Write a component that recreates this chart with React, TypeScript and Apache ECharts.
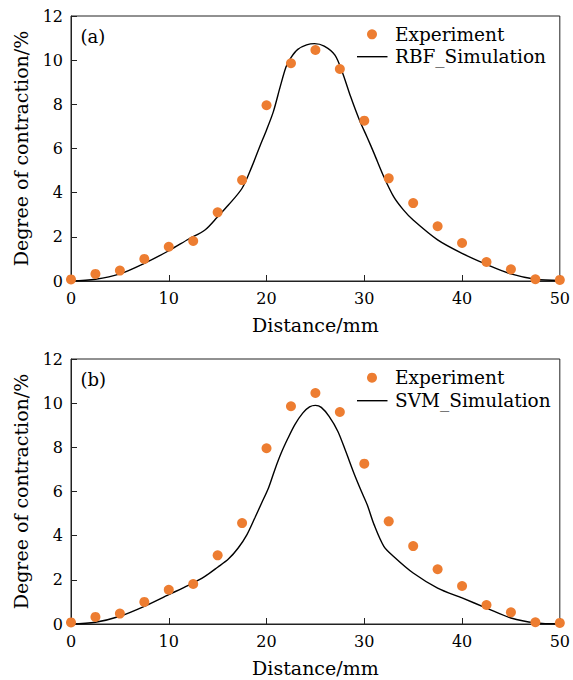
import React, { useEffect, useRef } from "react";
import * as echarts from "echarts";

const expX = [0, 2.5, 5, 7.5, 10, 12.5, 15, 17.5, 20, 22.5, 25, 27.5, 30, 32.5, 35, 37.5, 40, 42.5, 45, 47.5, 50];
const expY = [0.07, 0.32, 0.47, 1.0, 1.55, 1.81, 3.11, 4.57, 7.96, 9.86, 10.46, 9.6, 7.26, 4.65, 3.53, 2.48, 1.72, 0.86, 0.53, 0.08, 0.05];

const rbfX = [0, 2.5, 5, 7.5, 10, 12, 13.7, 15, 16.1, 17.5, 18.5, 19.3, 20, 20.7, 21.4, 22, 22.5, 23.2, 24.1, 24.9, 25.9, 27, 27.8, 28.6, 29.5, 30.3, 31, 32, 33, 34, 35, 37.5, 40, 42.5, 45, 47.5, 50];
const rbfY = [0, 0.08, 0.32, 0.8, 1.37, 1.89, 2.31, 2.91, 3.44, 4.2, 5.18, 6.08, 6.84, 7.67, 8.8, 9.7, 10.12, 10.49, 10.69, 10.75, 10.64, 10.23, 9.4, 8.35, 7.29, 6.5, 5.78, 4.72, 3.82, 3.22, 2.76, 1.86, 1.25, 0.75, 0.32, 0.08, 0.02];

const svmX = [0, 2.5, 5, 7.5, 10, 12, 13.7, 15, 16.1, 17.1, 18, 18.8, 19.5, 20.2, 20.85, 21.5, 22.2, 22.9, 23.7, 24.4, 25, 25.6, 26.4, 27.3, 28.1, 29, 29.7, 30.3, 31, 32, 33, 35, 37.5, 40, 42.5, 45, 47.5, 50];
const svmY = [0, 0.08, 0.35, 0.8, 1.33, 1.75, 2.16, 2.57, 2.94, 3.44, 4.05, 4.8, 5.48, 6.16, 6.99, 7.74, 8.42, 9.03, 9.55, 9.83, 9.9, 9.81, 9.4, 8.72, 7.82, 6.76, 6.01, 5.4, 4.5, 3.52, 3.06, 2.31, 1.63, 1.18, 0.72, 0.27, 0.05, 0.01];

const xTicks = { min: 0, max: 50, interval: 10 };
const yTicks = { min: 0, max: 12, interval: 2 };
const panelLabels = ["(a)", "(b)"];
const simNames = ["RBF_Simulation", "SVM_Simulation"];
const expName = "Experiment";
const xName = "Distance/mm";
const yName = "Degree of contraction/%";

const FONT = "DejaVu Serif";
const ORANGE = "#ED7D31";
const AXIS = "#222";

const zip = (xs: number[], ys: number[]) => xs.map((x, i) => [x, ys[i]]);

export default function App() {
  const ref = useRef<HTMLDivElement>(null);
  useEffect(() => {
    if (!ref.current) return;
    const chart = echarts.init(ref.current, undefined, { renderer: "svg" });
    const tops = [16, 359];
    const grids = tops.map((t) => ({
      left: 71,
      top: t,
      width: 492,
      height: 265,
      show: true,
      borderColor: AXIS,
      borderWidth: 1,
      backgroundColor: "transparent",
    }));
    const xAxes = tops.map((_, i) => ({
      type: "value",
      gridIndex: i,
      ...xTicks,
      name: xName,
      nameLocation: "middle",
      nameGap: 34,
      nameTextStyle: { fontFamily: FONT, fontSize: 19, color: "#000" },
      axisLine: { show: true, lineStyle: { color: AXIS, width: 1 } },
      axisTick: { show: true, inside: true, length: 6, lineStyle: { color: AXIS } },
      axisLabel: { fontFamily: FONT, fontSize: 16, color: "#000", margin: 9 },
      splitLine: { show: false },
    }));
    const yAxes = tops.map((_, i) => ({
      type: "value",
      gridIndex: i,
      ...yTicks,
      name: yName,
      nameLocation: "middle",
      nameGap: 41,
      nameTextStyle: { fontFamily: FONT, fontSize: 19, color: "#000" },
      axisLine: { show: true, lineStyle: { color: AXIS, width: 1 } },
      axisTick: { show: true, inside: true, length: 6, lineStyle: { color: AXIS } },
      axisLabel: { fontFamily: FONT, fontSize: 16, color: "#000", margin: 8 },
      splitLine: { show: false },
    }));
    const series: any[] = [];
    [zip(rbfX, rbfY), zip(svmX, svmY)].forEach((sim, i) => {
      series.push({
        type: "line",
        name: simNames[i],
        xAxisIndex: i,
        yAxisIndex: i,
        data: sim,
        smooth: 0.3,
        symbol: "none",
        lineStyle: { color: "#000", width: 1.4 },
        z: 2,
      });
      series.push({
        type: "scatter",
        name: expName,
        xAxisIndex: i,
        yAxisIndex: i,
        data: zip(expX, expY),
        symbol: "circle",
        symbolSize: 10,
        itemStyle: { color: ORANGE, opacity: 1 },
        z: 3,
      });
    });
    const textStyle = (text: string, size: number) => ({
      text,
      fontFamily: FONT,
      fontSize: size,
      lineHeight: 19,
      fill: "#000",
      verticalAlign: "middle",
      align: "left",
    });
    const legendRows = [
      { marker: 34.3, line: 56.7, t1: 34.5, t2: 56.3, label: 36.6 },
      { marker: 377.7, line: 400.7, t1: 377.5, t2: 400.8, label: 379 },
    ];
    const graphic: any[] = [];
    legendRows.forEach((r, i) => {
      graphic.push(
        { type: "circle", shape: { cx: 372, cy: r.marker, r: 5 }, style: { fill: ORANGE }, z: 10 },
        { type: "text", x: 395, y: r.t1, style: textStyle(expName, 18.5), z: 10 },
        { type: "line", shape: { x1: 357, y1: r.line, x2: 387.5, y2: r.line }, style: { stroke: "#000", lineWidth: 1.4 }, z: 10 },
        { type: "text", x: 395, y: r.t2, style: textStyle(simNames[i], 18.5), z: 10 },
        { type: "text", x: 80.5, y: r.label, style: textStyle(panelLabels[i], 18), z: 10 }
      );
    });
    chart.setOption({
      animation: false,
      backgroundColor: "#fff",
      grid: grids,
      xAxis: xAxes,
      yAxis: yAxes,
      series,
      graphic,
    });
    return () => chart.dispose();
  }, []);
  return (
    <div
      ref={ref}
      style={{ position: "fixed", left: 0, top: 0, width: 573, height: 680 }}
    />
  );
}
